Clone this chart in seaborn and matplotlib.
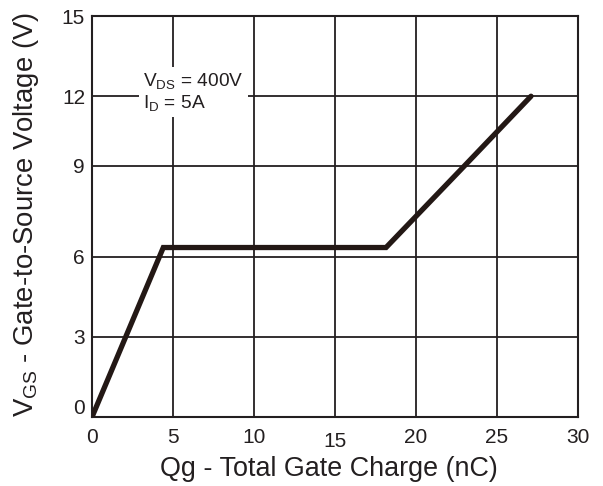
import numpy as np
import pandas as pd
import matplotlib
matplotlib.use("Agg")
import matplotlib.pyplot as plt
from matplotlib import transforms
import seaborn as sns

# Gate charge curve
qg = [0.0, 4.4, 18.15, 23.0, 27.1]
vgs = [0.0, 6.3, 6.3, 9.0, 12.0]

x_ticks = [0, 5, 10, 15, 20, 25, 30]
y_ticks = [0, 3, 6, 9, 12, 15]

sns.set_theme(style="white")
plt.rcParams["font.family"] = ["Liberation Sans", "DejaVu Sans"]
plt.rcParams["mathtext.default"] = "regular"

ink = "#231f20"

fig = plt.figure(figsize=(6.03, 4.86), dpi=100)
ax = fig.add_axes([0.1526, 0.142, 0.8059, 0.825])

# the printed grid is not evenly spaced at 9 V
y_knots = np.array([0, 3, 6, 9, 12, 15], dtype=float)
y_pos = np.array([0, 3, 6, 9.4, 12, 15], dtype=float)
ax.set_yscale("function",
              functions=(lambda v: np.interp(v, y_knots, y_pos),
                         lambda p: np.interp(p, y_pos, y_knots)))

df = pd.DataFrame({"Qg": qg, "VGS": vgs})
sns.lineplot(data=df, x="Qg", y="VGS", ax=ax, color="#231815", lw=3.8,
             sort=False, estimator=None, solid_joinstyle="miter", zorder=3)

ax.set_xlim(0, 30)
ax.set_ylim(0, 15)
ax.set_xticks(x_ticks)
ax.set_yticks(y_ticks)
ax.set_xticklabels([str(t) for t in x_ticks])
ax.set_yticklabels([str(t) for t in y_ticks])
ax.grid(True, color=ink, lw=1.3)
for s in ax.spines.values():
    s.set_color(ink)
    s.set_linewidth(1.5)
ax.tick_params(axis="both", length=0, labelsize=15, colors=ink)
ax.tick_params(axis="x", pad=8)
ax.tick_params(axis="y", pad=5)

# small quirks in label placement
ylabs = ax.get_yticklabels()
ylabs[0].set_transform(ylabs[0].get_transform() +
                       transforms.ScaledTranslation(0, 10 / 100, fig.dpi_scale_trans))
xlabs = ax.get_xticklabels()
xlabs[3].set_transform(xlabs[3].get_transform() +
                       transforms.ScaledTranslation(0, -4 / 100, fig.dpi_scale_trans))

ax.set_xlabel("Qg - Total Gate Charge (nC)", fontsize=19.4, color=ink)
ax.set_ylabel("V$_{GS}$ - Gate-to-Source Voltage (V)", fontsize=19.8, color=ink)
ax.xaxis.set_label_coords(0.488, -0.098)
ax.yaxis.set_label_coords(-0.104, 0.504)

ax.text(0.105, 0.862, "V$_{DS}$ = 400V\nI$_{D}$ = 5A", transform=ax.transAxes,
        fontsize=13.8, color=ink, ha="left", va="top", linespacing=1.1,
        bbox=dict(facecolor="white", edgecolor="none", pad=3), zorder=4)

fig.savefig("out.png", dpi=100)
